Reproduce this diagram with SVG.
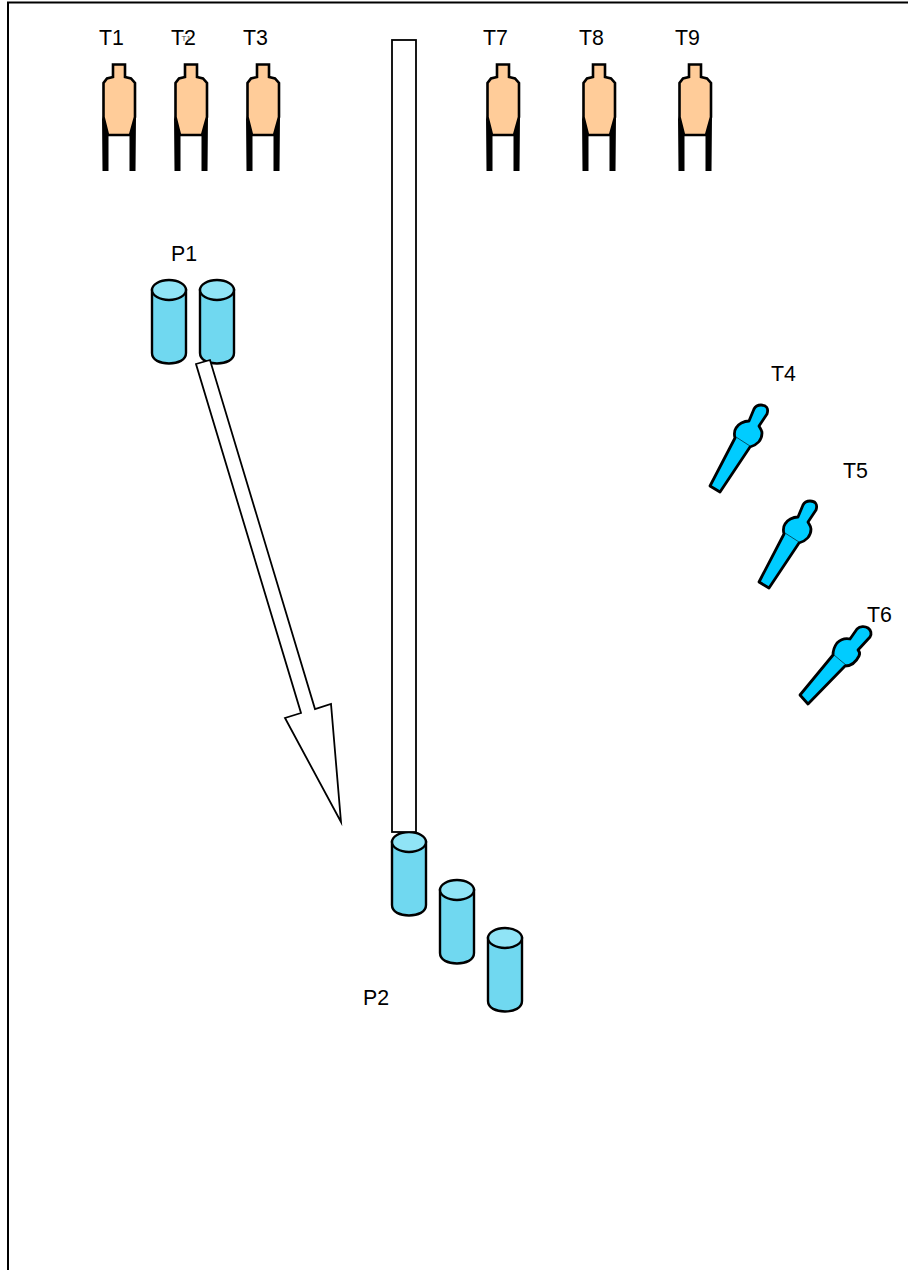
<svg xmlns="http://www.w3.org/2000/svg" width="908" height="1270" viewBox="0 0 908 1270">
<style>
text{font-family:"Liberation Sans",Arial,sans-serif;font-size:21.33px;fill:#000}
.b{fill:#ffcc99;stroke:#000;stroke-width:2.6;stroke-linejoin:miter}
.c{fill:#70d8f0;stroke:#000;stroke-width:2.4}
.ct{fill:#90e4f6;stroke:#000;stroke-width:2.4}
.p{fill:#00ccff;stroke:#000;stroke-width:2.8;stroke-linejoin:round}
.w{fill:#fff;stroke:#000;stroke-width:1.8;stroke-miterlimit:10}
</style>
<defs>
<g id="tank">
<path fill="#000" d="M102 116L108.500 135V171H102.500ZM136 116L129.500 135V171H135.500Z"/>
<path class="b" d="M113 64.500H125V77L131 78.500L135 83V117L130 135H108L103.500 117V83L107 78.500L113 77Z"/>
</g>
<g id="cyl">
<path class="c" d="M152 290V353C152 360 160 363.500 169 363.500C178 363.500 186 360 186 353V290Z"/>
<ellipse class="ct" cx="169" cy="290" rx="17" ry="10"/>
</g>
<g id="pip">
<path class="p" d="M710 486L720 492L750 447C757 445 762 440 762 433C762 430 760 428 759 426L767 414C769 408 766 405 761 405C757 405 755 407 754 409L749 421C744 421 738 424 736 428C734 431 734 434 735 438Z"/>
<path d="M736 437L750 446" stroke="#000" stroke-width=".6" fill="none"/>
</g>
</defs>
<g id="frame"><path d="M8 1270V2.500H908" fill="none" stroke="#000" stroke-width="2"/></g>
<g id="node-T1"><use href="#tank"/><text x="99" y="45">T1</text></g>
<g id="node-T2"><use href="#tank" x="72"/><text x="171" y="45">T2</text><text x="181.500" y="41" style="font-size:8px;fill:#444">T1</text></g>
<g id="node-T3"><use href="#tank" x="144"/><text x="243" y="45">T3</text></g>
<g id="node-T7"><use href="#tank" x="384"/><text x="483" y="45">T7</text></g>
<g id="node-T8"><use href="#tank" x="480"/><text x="579" y="45">T8</text></g>
<g id="node-T9"><use href="#tank" x="576"/><text x="675" y="45">T9</text></g>
<g id="node-P1"><use href="#cyl"/><use href="#cyl" x="48"/><text x="171" y="261">P1</text></g>
<g id="node-P2"><use href="#cyl" x="240" y="552"/><use href="#cyl" x="288" y="600"/><use href="#cyl" x="336" y="648"/><text x="363" y="1005">P2</text></g>
<g id="node-T4"><use href="#pip"/><text x="771" y="381">T4</text></g>
<g id="node-T5"><use href="#pip" x="49" y="96"/><text x="843" y="478">T5</text></g>
<g id="node-T6">
<path class="p" d="M800 695L808 704L845 666C851 666 856 662 859 656C860 654 860 652 858 650L870 637C872 634 871 630 868 628C865 626 860 626 857 629L850 639C845 638 840 640 837 643C834 647 833 651 833 655Z"/>
<path d="M834 655L846 665" stroke="#000" stroke-width=".6" fill="none"/>
<text x="867" y="622">T6</text></g>
<g id="connectors">
<path class="w" d="M196 364L210 360L315 709L331 704L341 822L285 718L301 713Z"/>
<rect class="w" x="392" y="40" width="24" height="792"/>
</g>
</svg>
